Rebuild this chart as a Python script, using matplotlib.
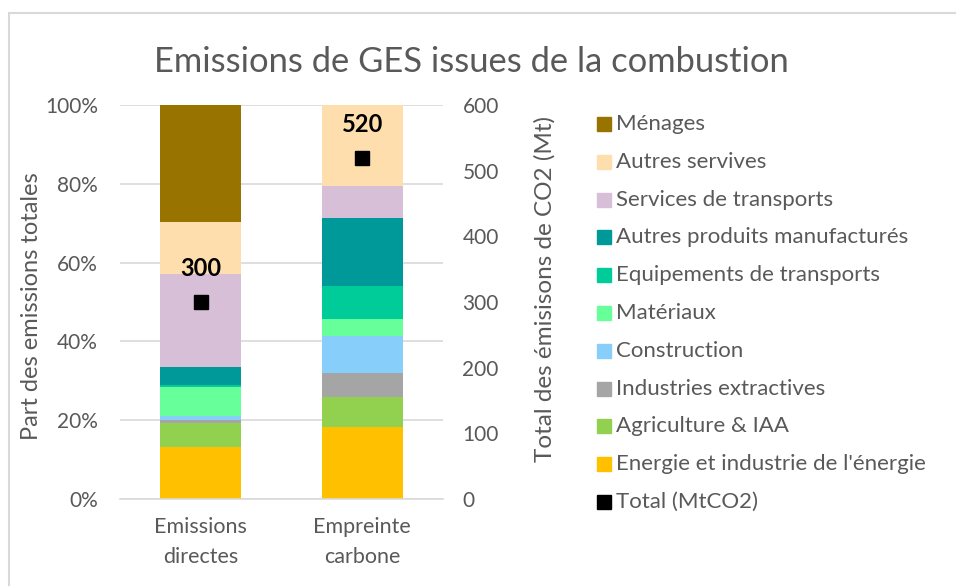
import matplotlib
matplotlib.use('Agg')
import matplotlib.pyplot as plt
from matplotlib.patches import Rectangle
import numpy as np

plt.rcParams['font.family'] = ['Lato', 'DejaVu Sans']

# Data (shares in % of total emissions, bottom to top)
categories = ['Emissions\ndirectes', 'Empreinte\ncarbone']
sectors = ["Energie et industrie de l'énergie", 'Agriculture & IAA', 'Industries extractives',
           'Construction', 'Matériaux', 'Equipements de transports',
           'Autres produits manufacturés', 'Services de transports', 'Autres servives', 'Ménages']
directes = [13.2, 6.0, 0.9, 1.0, 7.2, 0.6, 4.7, 23.6, 13.1, 29.7]
empreinte = [18.2, 7.6, 6.3, 9.2, 4.5, 8.2, 17.3, 8.2, 20.5, 0.0]
totals = [300, 520]
colors = ['#FFC000', '#92D050', '#A5A5A5', '#87CEFA', '#66FF99', '#00CC99',
          '#009999', '#D8BFD8', '#FFDEAD', '#997300']

grey = '#595959'

fig = plt.figure(figsize=(9.56, 5.86), dpi=100)
ax = fig.add_axes([120/956, 1-499/586, 323/956, 394/586])

x = np.arange(len(categories))
shares = np.array([directes, empreinte])
bottom = np.zeros(len(categories))
for i, sec in enumerate(sectors):
    ax.bar(x, shares[:, i], 0.5, bottom=bottom, color=colors[i], zorder=2)
    bottom += shares[:, i]

ax.set_xlim(-0.5, 1.5)
ax.set_ylim(0, 100)
ax.set_yticks(np.arange(0, 101, 20))
ax.set_yticklabels([f'{v}%' for v in range(0, 101, 20)])
ax.set_xticks(x)
ax.set_xticklabels(categories, fontsize=15.5, color=grey, linespacing=1.65)
ax.tick_params(axis='y', length=0, pad=16, labelsize=15, labelcolor=grey)
ax.tick_params(axis='x', length=0, pad=13)
ax.grid(axis='y', color='#D9D9D9', lw=1.2, zorder=0)
for s in ['top', 'right', 'left']:
    ax.spines[s].set_visible(False)
ax.spines['bottom'].set_color('#D9D9D9')
ax.spines['bottom'].set_linewidth(1.2)
ax.set_ylabel('Part des emissions totales', fontsize=17, color=grey, va='center')
ax.yaxis.set_label_coords((32-120)/323, 0.49)

# Secondary axis: totals
ax2 = ax.twinx()
ax2.set_ylim(0, 600)
ax2.set_yticks(np.arange(0, 601, 100))
ax2.tick_params(axis='y', length=0, pad=14, labelsize=15, labelcolor=grey)
for s in ax2.spines.values():
    s.set_visible(False)
ax2.plot(x, totals, 's', color='black', markersize=10, linestyle='none', zorder=5)
for xi, t in zip(x, totals):
    ax2.annotate(f'{t}', (xi, t), xytext=(0, 24), textcoords='offset points',
                 ha='center', va='center', fontsize=17, fontweight='bold', color='black')
ax2.set_ylabel('Total des émisisons de CO2 (Mt)', fontsize=17.5, color=grey, va='center')
ax2.yaxis.set_label_coords((545-120)/323, 0.533)

fig.text(471/956, 1-62/586, 'Emissions de GES issues de la combustion',
         ha='center', va='center', fontsize=24.8, color=grey)

# Legend (top to bottom)
leg_labels = sectors[::-1] + ['Total (MtCO2)']
leg_colors = colors[::-1] + ['black']
for k, (lab, col) in enumerate(zip(leg_labels, leg_colors)):
    yc = 124 + k * 37.8
    fig.patches.append(Rectangle((597/956, 1-(yc+7)/586), 14/956, 14/586,
                                 transform=fig.transFigure, color=col))
    fig.text(616/956, 1-yc/586, lab, ha='left', va='center', fontsize=16, color=grey)

# Chart border
fig.patches.append(Rectangle((9/956, -0.1), 1.1, 1.1 - 13/586,
                             transform=fig.transFigure, fill=False,
                             edgecolor='#D9D9D9', lw=1.5))

fig.savefig('out.png', dpi=100)
